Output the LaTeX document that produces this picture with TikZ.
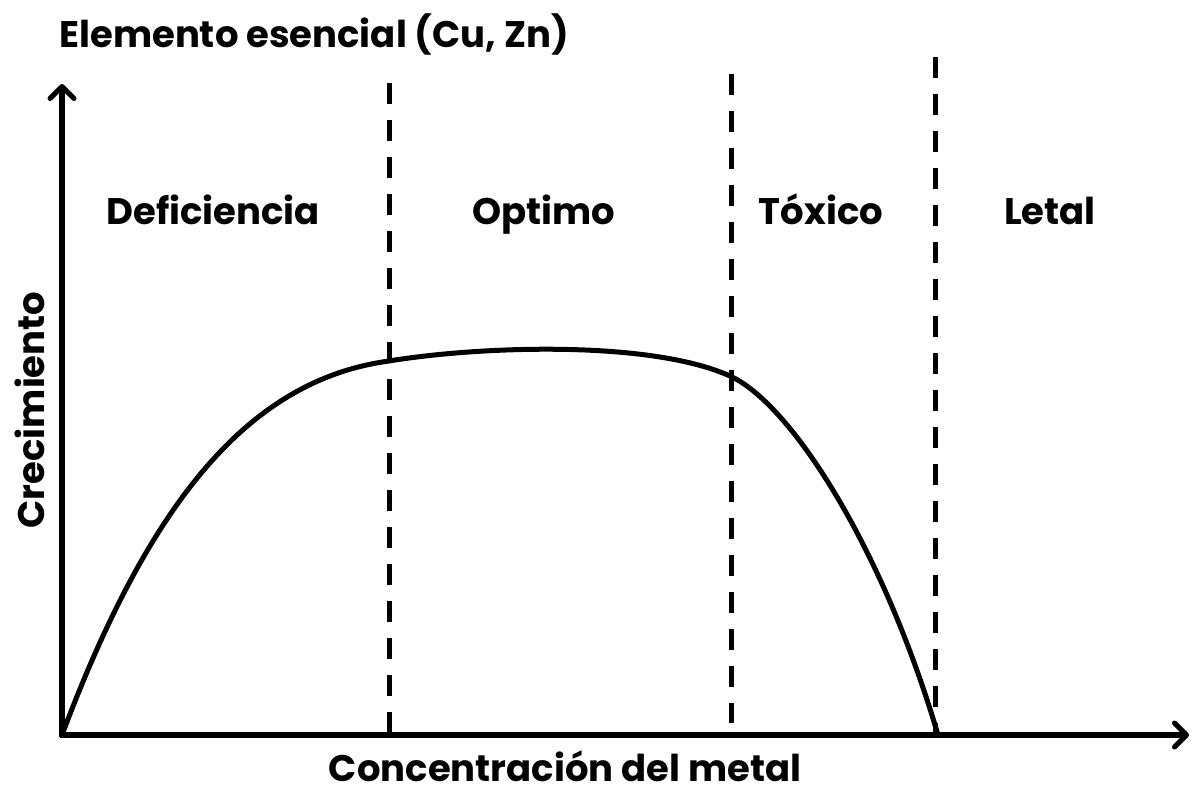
\documentclass[tikz,border=0pt]{standalone}
\usepackage{fontspec}
\setmainfont{Poppins}
\usetikzlibrary{arrows.meta}
\begin{document}
\begin{tikzpicture}[x=1pt,y=-1pt,
  lbl/.style={font=\fontsize{37}{44}\selectfont\bfseries, inner sep=0pt, anchor=base},
  axisline/.style={line width=5.5pt, -{Straight Barb[length=12pt,width=24pt,line width=5pt,round]}},
  divline/.style={line width=5pt, dash pattern=on 21pt off 16pt},
  curveline/.style={line width=5pt, line join=round}]
\useasboundingbox (0,0) rectangle (1195,789);
\coordinate (O) at (62,735);
\coordinate (ytop) at (62,84);
\coordinate (xend) at (1189,735);
\draw[axisline] (62,737) -- (ytop);
\draw[axisline] (60,735) -- (xend);
\coordinate (d1t) at (389,83);  \coordinate (d1b) at (389,735);
\coordinate (d2t) at (731,74);  \coordinate (d2b) at (731,723);
\coordinate (d3t) at (935,57);  \coordinate (d3b) at (935,735);
\draw[divline] (d1t) -- (d1b);
\draw[divline] (d2t) -- (d2b);
\draw[divline] (d3t) -- (d3b);
\coordinate (p1) at (389,361);
\coordinate (p2) at (730,376);
\coordinate (p3) at (938,735);
\draw[curveline] (O) .. controls (150,500) and (250,380) .. (p1)
  .. controls (480,346) and (650,340) .. (p2)
  .. controls (790,403) and (882,545) .. (p3);
\node[lbl] (title) at (314,48) {Elemento esencial (Cu, Zn)};
\node[lbl] (def) at (213,224) {Deficiencia};
\node[lbl] (opt) at (544,224) {Optimo};
\node[lbl] (tox) at (821,224) {Tóxico};
\node[lbl] (let) at (1050,224) {Letal};
\node[lbl, rotate=90] (ylab) at (44,410) {Crecimiento};
\node[lbl] (xlab) at (565,781) {Concentración del metal};
\end{tikzpicture}
\end{document}
